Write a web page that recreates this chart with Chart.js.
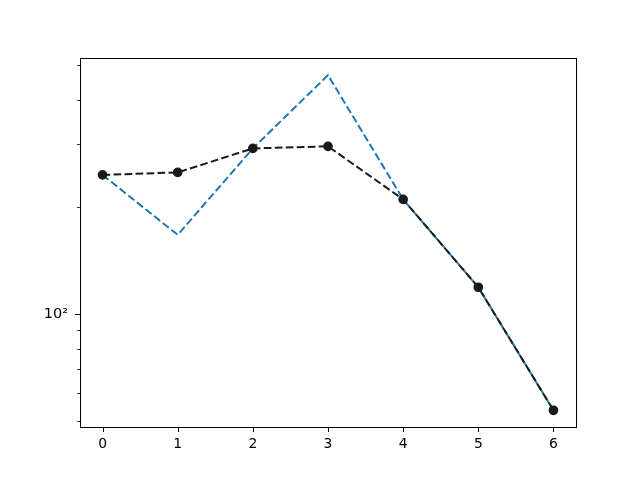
<!DOCTYPE html>
<html>
<head>
<meta charset="utf-8">
<script src="https://cdn.jsdelivr.net/npm/chart.js@4.4.0/dist/chart.umd.min.js"></script>
<style>
html,body{margin:0;padding:0;background:#fff;}
#wrap{width:640px;height:480px;}
</style>
</head>
<body>
<div id="wrap"><canvas id="c" width="640" height="480"></canvas></div>
<script>
const xValues = [0, 1, 2, 3, 4, 5, 6];
const blueValues = [246, 167, 292, 469, 210, 119, 53.7];
const blackValues = [246, 250, 292, 296, 210, 119, 53.7];
const yMajorTicks = [100];
const yMinorTicks = [50, 60, 70, 80, 90, 200, 300, 400, 500];
const yMajorLabels = {100: '10²'};
const xTicks = [0, 1, 2, 3, 4, 5, 6];

const toPts = arr => arr.map((v, i) => ({x: xValues[i], y: v}));

const frame = {
  id: 'frame',
  afterDraw(chart) {
    const ctx = chart.ctx, a = chart.chartArea;
    const ys = chart.scales.y, xs = chart.scales.x;
    ctx.save();
    ctx.strokeStyle = '#000';
    ctx.lineWidth = 1;
    ctx.beginPath();
    yMajorTicks.forEach(v => { const p = Math.round(ys.getPixelForValue(v)) + 0.5; ctx.moveTo(a.left, p); ctx.lineTo(a.left - 5, p); });
    xTicks.forEach(v => { const p = Math.round(xs.getPixelForValue(v)) + 0.5; ctx.moveTo(p, a.bottom); ctx.lineTo(p, a.bottom + 5); });
    ctx.stroke();
    ctx.lineWidth = 0.8;
    ctx.beginPath();
    yMinorTicks.forEach(v => { const p = Math.round(ys.getPixelForValue(v)) + 0.5; ctx.moveTo(a.left, p); ctx.lineTo(a.left - 3, p); });
    ctx.stroke();
    ctx.lineWidth = 1;
    ctx.strokeRect(Math.round(a.left) + 0.5, Math.round(a.top) + 0.5, Math.round(a.right - a.left), Math.round(a.bottom - a.top));
    ctx.restore();
  }
};

new Chart(document.getElementById('c'), {
  type: 'line',
  data: {
    datasets: [
      {
        data: toPts(blackValues),
        borderColor: '#1a1a1a',
        backgroundColor: '#1a1a1a',
        borderWidth: 2,
        borderDash: [7.7, 3.3],
        pointRadius: 4.2,
        pointHoverRadius: 4.2,
        pointBorderWidth: 1.3,
        pointBorderColor: '#1a1a1a',
        pointBackgroundColor: '#1a1a1a',
        fill: false,
        tension: 0
      },
      {
        data: toPts(blueValues),
        borderColor: '#1f77b4',
        borderWidth: 2,
        borderDash: [7.7, 3.3],
        pointRadius: 0,
        pointHoverRadius: 0,
        fill: false,
        tension: 0
      }
    ]
  },
  options: {
    responsive: false,
    animation: false,
    events: [],
    layout: {padding: {top: 58, right: 64, left: 0, bottom: 0}},
    plugins: {legend: {display: false}, tooltip: {enabled: false}},
    scales: {
      x: {
        type: 'linear',
        min: -0.3,
        max: 6.3,
        afterBuildTicks: s => { s.ticks = xTicks.map(v => ({value: v})); },
        afterFit: s => { s.height = 53; },
        grid: {display: false, drawTicks: false},
        border: {display: false},
        ticks: {
          color: '#000',
          font: {family: 'DejaVu Sans', size: 13.9},
          padding: 9,
          maxRotation: 0,
          callback: v => String(v)
        }
      },
      y: {
        type: 'logarithmic',
        min: 48.2,
        max: 524,
        afterBuildTicks: s => {
          s.ticks = yMinorTicks.concat(yMajorTicks).sort((a, b) => a - b).map(v => ({value: v}));
        },
        afterFit: s => { s.width = 80; },
        grid: {display: false, drawTicks: false},
        border: {display: false},
        ticks: {
          color: '#000',
          font: {family: 'DejaVu Sans', size: 14.5},
          padding: 12,
          autoSkip: false,
          callback: v => yMajorLabels[v] || ''
        }
      }
    }
  },
  plugins: [frame]
});
</script>
</body>
</html>
